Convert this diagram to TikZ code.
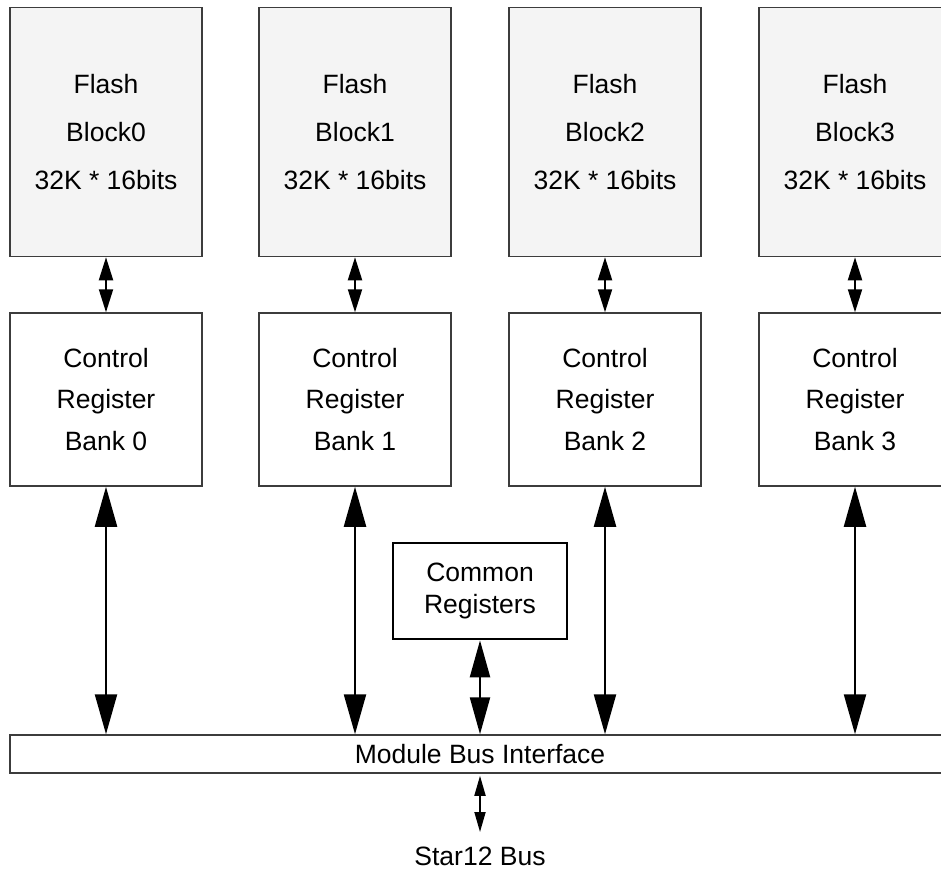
\documentclass[tikz,border=0pt]{standalone}
\usepackage{fontspec}
\setmainfont{Liberation Sans}
\usetikzlibrary{arrows.meta}
\definecolor{boxline}{HTML}{3C3C3C}
\definecolor{flashfill}{HTML}{F4F4F4}
\begin{document}
\begin{tikzpicture}[x=1pt,y=-1pt,
  flashbox/.style={draw=boxline,line width=1.5pt,fill=flashfill,minimum width=192pt,minimum height=249pt,align=center,inner sep=0pt,font=\fontsize{26.5}{48}\selectfont},
  ctrlbox/.style={draw=boxline,line width=1.5pt,fill=white,minimum width=192pt,minimum height=173pt,align=center,inner sep=0pt,font=\fontsize{26.5}{41.5}\selectfont},
  commonbox/.style={draw=black,line width=2.7pt,minimum width=174pt,minimum height=96pt,align=center,inner sep=0pt,font=\fontsize{26.5}{32}\selectfont},
  busbox/.style={draw=boxline,line width=1.5pt,minimum width=950pt,minimum height=38pt,inner sep=0pt,font=\fontsize{26.5}{32}\selectfont},
  lbl/.style={inner sep=0pt,font=\fontsize{26.5}{32}\selectfont},
  bigarrow/.style={line width=2.3pt,{Triangle[length=40pt,width=22pt]}-{Triangle[length=40pt,width=22pt]}},
  comarrow/.style={line width=2.3pt,{Triangle[length=37pt,width=20pt]}-{Triangle[length=37pt,width=20pt]}},
  smallarrow/.style={line width=2pt,{Triangle[length=23pt,width=14pt]}-{Triangle[length=23pt,width=14pt]}},
  stararrow/.style={line width=1.8pt,{Triangle[length=20pt,width=11pt]}-{Triangle[length=20pt,width=11pt]}}
]
\useasboundingbox (0,0) rectangle (941,873);
\clip (0,0) rectangle (941,873);
\fill[white] (0,0) rectangle (941,873);

\foreach \i/\x in {0/106,1/355,2/605,3/855} {
  \node[flashbox] (f\i) at (\x,132) {Flash\\Block\i\\32K * 16bits};
  \node[ctrlbox] (c\i) at (\x,399.5) {Control\\Register\\Bank \i};
}
\node[commonbox] (com) at (480,591) {Common\\Registers};
\node[busbox] (bus) at (485,754) {};
\node[lbl] (busl) at (480,754) {Module Bus Interface};
\node[lbl,anchor=north] (star) at (480,847) {Star12 Bus};

\foreach \i in {0,1,2,3} {
  \draw[smallarrow] (f\i.south) -- (c\i.north);
  \draw[bigarrow] (c\i.south) -- (bus.north -| c\i.south);
}
\draw[comarrow] (com.south) -- (bus.north -| com.south);
\draw[stararrow] ([yshift=-2pt]bus.south -| star.north) -- ([yshift=15pt]star.north);
\end{tikzpicture}
\end{document}
